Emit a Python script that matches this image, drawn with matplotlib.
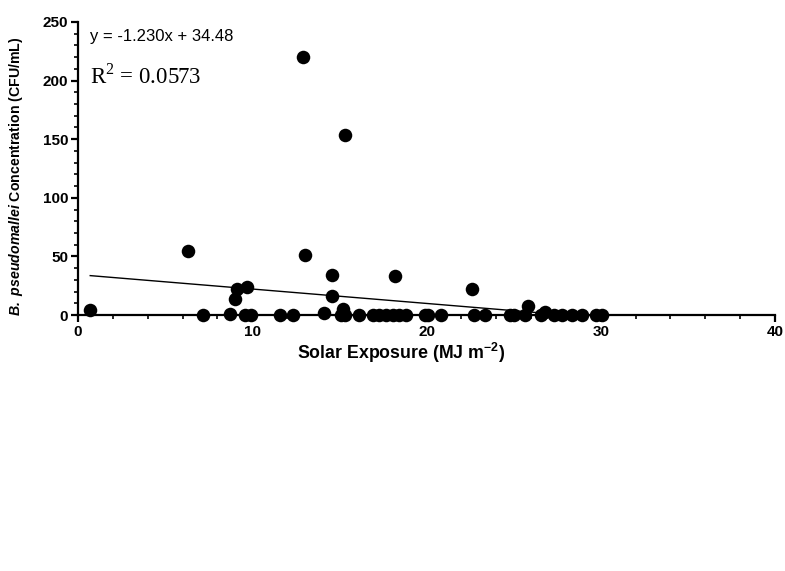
"""
    Scatter of B. pseudomallei concentration against solar exposure, with linear fit.
"""
########################################################################################################################
# Imports
########################################################################################################################

import matplotlib
matplotlib.use("Agg")
import matplotlib.pyplot as plt
from matplotlib.ticker import MultipleLocator

########################################################################################################################
# Globals & Constants
########################################################################################################################

# Samples with a positive count: solar exposure (MJ m-2) and concentration (CFU/mL).
positive_exposure = [0.7, 6.3, 8.7, 9.0, 9.1, 9.7, 12.9, 13.0, 14.1, 14.6, 14.6, 15.2, 15.3, 18.2, 22.6, 25.8, 26.8]
positive_conc = [4, 55, 1, 14, 22, 24, 220, 51, 2, 34, 16, 5, 154, 33, 22, 8, 3]

# Samples with no detection (0 CFU/mL).
zero_exposure = [7.2, 9.6, 9.9, 11.6, 12.35, 15.1, 15.3, 16.1, 16.9, 17.3, 17.7, 18.1, 18.4, 18.85,
                 19.9, 20.1, 20.85, 22.7, 23.35, 24.8, 25.0, 25.65, 26.55, 27.3, 27.8, 28.35, 28.95,
                 29.7, 30.05]
zero_conc = [0] * len(zero_exposure)

# Linear regression reported on the chart.
fit_slope = -1.230
fit_intercept = 34.48
fit_r2 = 0.0573

x_ticks = [0, 10, 20, 30, 40]
y_ticks = [0, 50, 100, 150, 200, 250]

########################################################################################################################
# Script: Body
########################################################################################################################


def setup_fonts() -> None:
    plt.rcParams['font.family'] = ['Liberation Sans', 'DejaVu Sans']
    plt.rcParams['mathtext.fontset'] = 'custom'
    plt.rcParams['mathtext.rm'] = 'Liberation Serif'
    plt.rcParams['mathtext.bf'] = 'Liberation Sans:bold'
    plt.rcParams['mathtext.bfit'] = 'Liberation Sans:italic:bold'


def plot_exposure(out_file: str = "out.png") -> None:
    fig = plt.figure(figsize=(7.85, 5.71), dpi=100)
    ax = fig.add_axes([0.0994, 0.4483, 0.8879, 0.5132])

    xs = positive_exposure + zero_exposure
    ys = positive_conc + zero_conc
    ax.scatter(xs, ys, s=95, color='black', zorder=5, clip_on=False, linewidths=0)

    # fitted line over the range where it stays above zero
    x_start = min(xs)
    x_end = min(max(xs), -fit_intercept / fit_slope)
    ax.plot([x_start, x_end], [fit_slope * x_start + fit_intercept, fit_slope * x_end + fit_intercept],
            color='black', lw=1.0, zorder=4)

    ax.set_xlim(x_ticks[0], x_ticks[-1])
    ax.set_ylim(y_ticks[0], y_ticks[-1])
    ax.set_xticks(x_ticks)
    ax.set_yticks(y_ticks)
    ax.xaxis.set_minor_locator(MultipleLocator(2))
    ax.yaxis.set_minor_locator(MultipleLocator(10))

    for side in ('top', 'right'):
        ax.spines[side].set_visible(False)
    for side in ('left', 'bottom'):
        ax.spines[side].set_linewidth(1.6)

    ax.tick_params(which='major', direction='out', length=5, width=1.6, labelsize=11, pad=2)
    ax.tick_params(which='minor', direction='out', length=3, width=1.2)
    for lbl in ax.get_xticklabels() + ax.get_yticklabels():
        lbl.set_fontweight('bold')

    ax.set_xlabel(r'Solar Exposure (MJ m$^{\mathbf{-2}}$)', fontsize=12.8, fontweight='bold')
    ax.xaxis.set_label_coords(0.464, -0.09)
    ax.set_ylabel(r'$\mathbfit{B.}$ $\mathbfit{pseudomallei}$ Concentration (CFU/mL)', fontsize=10.2,
                  fontweight='bold')
    ax.yaxis.set_label_coords(-0.076, 0.474)

    ax.text(0.017, 0.95, f'y = {fit_slope:.3f}x + {fit_intercept:.2f}', transform=ax.transAxes,
            fontsize=12, va='center', ha='left')
    ax.text(0.017, 0.815, r'$\mathrm{R}^{2}$' + f' = {fit_r2:.4f}', transform=ax.transAxes,
            fontsize=16.5, va='center', ha='left', family='Liberation Serif')

    fig.savefig(out_file, dpi=100)


########################################################################################################################
# Script: Main
########################################################################################################################

if __name__ == '__main__':
    setup_fonts()
    plot_exposure()
